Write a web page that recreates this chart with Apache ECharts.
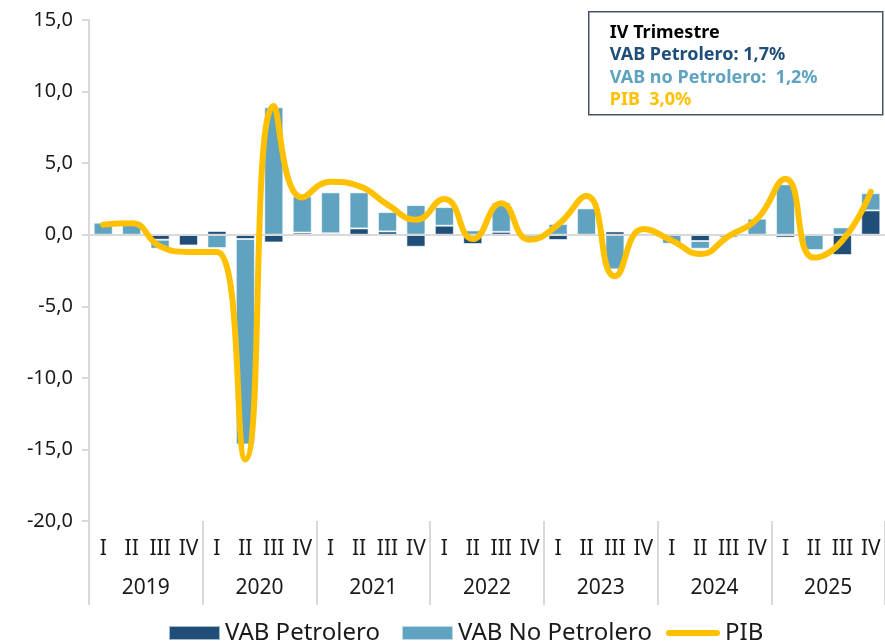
<!DOCTYPE html>
<html>
<head>
<meta charset="utf-8">
<script src="https://cdn.jsdelivr.net/npm/echarts@6/dist/echarts.min.js"></script>
<style>
  html, body { margin: 0; padding: 0; background: #fff; }
  #chart { width: 885px; height: 644px; }
</style>
</head>
<body>
<div id="chart"></div>
<script>
// Quarterly growth (%) by component, 2019 I – 2025 IV
const years = ['2019', '2020', '2021', '2022', '2023', '2024', '2025'];
const quarterNames = ['I', 'II', 'III', 'IV'];
const yTicks = { min: -20, max: 15, step: 5 };

const vabPetrolero = [
  0.0, 0.0, -0.35, -0.75,
  0.26, -0.3, -0.54, 0.15,
  0.1, 0.44, 0.23, -0.84,
  0.63, -0.65, 0.2, 0.0,
  -0.37, 0.0, 0.23, 0.1,
  0.0, -0.44, 0.0, 0.0,
  -0.2, 0.0, -1.42, 1.7
];
const vabNoPetrolero = [
  0.84, 0.93, -0.63, -0.05,
  -0.93, -14.35, 8.9, 2.53,
  2.86, 2.52, 1.35, 2.07,
  1.3, 0.3, 2.04, -0.2,
  0.75, 1.84, -2.42, 0.05,
  -0.63, -0.54, -0.2, 1.12,
  3.52, -1.07, 0.51, 1.2
];
const pib = [
  0.7, 0.8, -0.8, -1.2,
  -1.2, -15.7, 9.0, 2.6,
  3.7, 3.4, 2.1, 1.05,
  2.5, -0.3, 2.2, -0.35,
  0.7, 2.7, -2.9, 0.4,
  -0.4, -1.35, -0.1, 1.1,
  3.9, -1.6, -0.4, 3.0
];

const categories = [];
years.forEach(() => quarterNames.forEach(q => categories.push(q)));

const FONT = 'Noto Sans';
const DARK = '#1f4e79';
const LIGHT = '#5fa3c0';
const GOLD = '#ffc000';
const GRID_GRAY = '#d9d9d9';
const TEXT = '#1a1a1a';

const fmt = v => v.toFixed(1).replace('.', ',');
const last = arr => arr[arr.length - 1];

const chart = echarts.init(document.getElementById('chart'), null, { renderer: 'canvas' });

const boxFont = 'bold 18px "Noto Sans"';

chart.setOption({
  animation: false,
  backgroundColor: '#fff',
  textStyle: { fontFamily: FONT },
  grid: { left: 89, top: 20, width: 798, height: 501, containLabel: false },
  xAxis: [
    {
      type: 'category',
      data: categories,
      position: 'bottom',
      axisLine: { show: false, onZero: false },
      axisTick: { show: false },
      axisLabel: { fontSize: 21, color: TEXT, margin: 18, interval: 0, fontFamily: FONT }
    },
    {
      type: 'category',
      data: years,
      position: 'bottom',
      offset: 0,
      axisLine: { show: false, onZero: false },
      axisTick: { show: true, length: 84, interval: 0, lineStyle: { color: GRID_GRAY, width: 2 } },
      axisLabel: { fontSize: 21, color: TEXT, margin: 57, interval: 0, fontFamily: FONT }
    }
  ],
  yAxis: {
    type: 'value',
    min: yTicks.min,
    max: yTicks.max,
    interval: yTicks.step,
    axisLine: { show: true, lineStyle: { color: GRID_GRAY, width: 2 } },
    axisTick: { show: true, length: 7, lineStyle: { color: GRID_GRAY, width: 2 } },
    splitLine: { show: false },
    axisLabel: { fontSize: 20, color: TEXT, margin: 16, formatter: fmt, fontFamily: FONT }
  },
  legend: [
    {
      left: 168,
      top: 621,
      padding: 0,
      itemWidth: 51,
      itemHeight: 14,
      itemGap: 21,
      textStyle: { fontSize: 24, color: TEXT, fontFamily: FONT },
      data: [
        { name: 'VAB Petrolero', icon: 'rect' },
        { name: 'VAB No Petrolero', icon: 'rect' }
      ]
    },
    {
      left: 666,
      top: 621,
      padding: 0,
      itemWidth: 54,
      itemHeight: 6,
      textStyle: { fontSize: 24, color: TEXT, fontFamily: FONT },
      data: [
        { name: 'PIB', icon: 'path://M3,0 L51,0 A3,3 0 0 1 51,6 L3,6 A3,3 0 0 1 3,0 Z' }
      ]
    }
  ],
  series: [
    {
      name: 'VAB Petrolero',
      type: 'bar',
      stack: 'vab',
      xAxisIndex: 0,
      barCategoryGap: '33%',
      itemStyle: { color: DARK, borderColor: 'rgba(255,255,255,0.6)', borderWidth: 1 },
      data: vabPetrolero,
      markLine: {
        silent: true,
        symbol: 'none',
        label: { show: false },
        lineStyle: { color: GRID_GRAY, width: 2, type: 'solid' },
        data: [{ yAxis: 0 }]
      }
    },
    {
      name: 'VAB No Petrolero',
      type: 'bar',
      stack: 'vab',
      xAxisIndex: 0,
      barCategoryGap: '33%',
      itemStyle: { color: LIGHT, borderColor: 'rgba(255,255,255,0.6)', borderWidth: 1 },
      data: vabNoPetrolero
    },
    {
      name: 'PIB',
      type: 'line',
      xAxisIndex: 0,
      smooth: 0.5,
      symbol: 'none',
      z: 5,
      lineStyle: { color: GOLD, width: 6, cap: 'round', join: 'round' },
      itemStyle: { color: GOLD },
      data: pib
    }
  ],
  graphic: [
    {
      type: 'group',
      left: 588,
      top: 11,
      children: [
        {
          type: 'rect',
          shape: { x: 0, y: 0, width: 294, height: 103 },
          style: { fill: '#fff', stroke: '#44546a', lineWidth: 1.5 }
        },
        {
          type: 'text', x: 21, y: 21,
          style: { text: 'IV Trimestre', fill: '#000', font: boxFont, verticalAlign: 'middle' }
        },
        {
          type: 'text', x: 21, y: 43,
          style: { text: 'VAB Petrolero: ' + fmt(last(vabPetrolero)) + '%', fill: DARK, font: boxFont, verticalAlign: 'middle' }
        },
        {
          type: 'text', x: 21, y: 66,
          style: { text: 'VAB no Petrolero:  ' + fmt(last(vabNoPetrolero)) + '%', fill: LIGHT, font: boxFont, verticalAlign: 'middle' }
        },
        {
          type: 'text', x: 21, y: 88,
          style: { text: 'PIB  ' + fmt(last(pib)) + '%', fill: GOLD, font: boxFont, verticalAlign: 'middle' }
        }
      ]
    }
  ]
});
</script>
</body>
</html>
